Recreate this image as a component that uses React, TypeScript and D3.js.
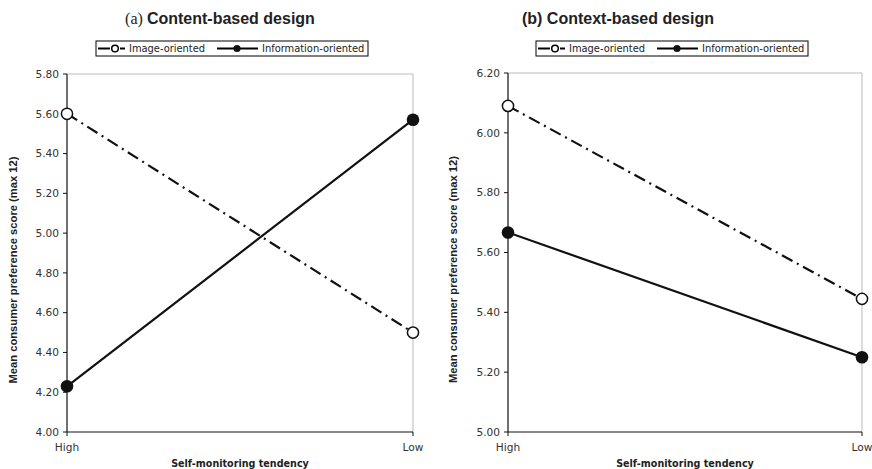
import React from "react";
import * as d3 from "d3";

const categories = ["High", "Low"];
const seriesNames = ["Image-oriented", "Information-oriented"];
const contentImage = [5.6, 4.5];
const contentInfo = [4.23, 5.57];
const contextImage = [6.09, 5.445];
const contextInfo = [5.667, 5.25];
const contentTicks = [4.0, 4.2, 4.4, 4.6, 4.8, 5.0, 5.2, 5.4, 5.6, 5.8];
const contextTicks = [5.0, 5.2, 5.4, 5.6, 5.8, 6.0, 6.2];

type PanelProps = {
  x0: number; x1: number; yTop: number; yBot: number;
  domain: [number, number]; ticks: number[];
  image: number[]; info: number[];
  legendX: number; yLabelX: number;
};

const SANS = "'DejaVu Sans', Verdana, sans-serif";
const ARIAL = "'Liberation Sans', Arial, sans-serif";

function Panel(p: PanelProps) {
  const x = d3.scalePoint<string>().domain(categories).range([p.x0, p.x1]);
  const y = d3.scaleLinear().domain(p.domain).range([p.yBot, p.yTop]);
  const line = d3.line<number>().x((_, i) => x(categories[i]) as number).y((v) => y(v));
  const lx = p.legendX;
  const ly = 48.5;
  return (
    <g>
      {/* legend */}
      <rect x={lx} y={41} width={272} height={15} fill="white" stroke="#000" strokeWidth={1} />
      <line x1={lx + 2} x2={lx + 14} y1={ly} y2={ly} stroke="#000" strokeWidth={2} />
      <line x1={lx + 24} x2={lx + 29} y1={ly} y2={ly} stroke="#000" strokeWidth={2} />
      <circle cx={lx + 19} cy={ly} r={3.3} fill="white" stroke="#000" strokeWidth={1.5} />
      <text x={lx + 33} y={ly + 3.5} fontFamily={SANS} fontSize={9.9} fill="#222">{seriesNames[0]}</text>
      <line x1={lx + 121} x2={lx + 162} y1={ly} y2={ly} stroke="#000" strokeWidth={2} />
      <circle cx={lx + 141} cy={ly} r={3.6} fill="#111" />
      <text x={lx + 166} y={ly + 3.5} fontFamily={SANS} fontSize={9.9} fill="#222">{seriesNames[1]}</text>

      {/* frame */}
      <line x1={p.x0} x2={p.x1} y1={p.yTop} y2={p.yTop} stroke="#bbb" strokeWidth={1} />
      <line x1={p.x1} x2={p.x1} y1={p.yTop} y2={p.yBot} stroke="#bbb" strokeWidth={1} />
      <line x1={p.x0} x2={p.x0} y1={p.yTop} y2={p.yBot} stroke="#111" strokeWidth={1.2} />
      <line x1={p.x0} x2={p.x1} y1={p.yBot} y2={p.yBot} stroke="#111" strokeWidth={1.2} />
      {p.ticks.map((t) => (
        <g key={t}>
          <line x1={p.x0 - 4} x2={p.x0} y1={y(t)} y2={y(t)} stroke="#111" strokeWidth={1} />
          <text x={p.x0 - 8} y={y(t) + 3.8} textAnchor="end" fontFamily={SANS} fontSize={10.6} fill="#333">
            {t.toFixed(2)}
          </text>
        </g>
      ))}
      {categories.map((c) => (
        <g key={c}>
          <line x1={x(c)} x2={x(c)} y1={p.yBot} y2={p.yBot + 4} stroke="#111" strokeWidth={1} />
          <text x={x(c)} y={p.yBot + 19} textAnchor="middle" fontFamily={SANS} fontSize={10.6} fill="#333">{c}</text>
        </g>
      ))}
      <text x={(p.x0 + p.x1) / 2} y={p.yBot + 34.5} textAnchor="middle" fontFamily={SANS} fontWeight="bold" fontSize={9.6} fill="#222">
        Self-monitoring tendency
      </text>
      <text transform={`translate(${p.yLabelX},${(p.yTop + p.yBot) / 2 + 17}) rotate(-90)`} textAnchor="middle" fontFamily={ARIAL} fontWeight="bold" fontSize={11.2} fill="#222">
        Mean consumer preference score (max 12)
      </text>

      {/* series */}
      <path d={line(p.info) || ""} fill="none" stroke="#111" strokeWidth={2.2} />
      <path d={line(p.image) || ""} fill="none" stroke="#111" strokeWidth={2.2} strokeDasharray="12,5,2,5" />
      {p.info.map((v, i) => (
        <circle key={"f" + i} cx={x(categories[i])} cy={y(v)} r={6.3} fill="#111" />
      ))}
      {p.image.map((v, i) => (
        <circle key={"o" + i} cx={x(categories[i])} cy={y(v)} r={5.6} fill="white" stroke="#111" strokeWidth={1.5} />
      ))}
    </g>
  );
}

export default function App() {
  return (
    <svg width={872} height={469} style={{ position: "absolute", left: 0, top: 0, display: "block", background: "white" }}>
      <text x={220} y={24} textAnchor="middle" fontSize={16} fill="#222">
        <tspan fontFamily="'Liberation Serif', 'Times New Roman', serif">(a) </tspan>
        <tspan fontFamily={ARIAL} fontWeight="bold">Content-based design</tspan>
      </text>
      <text x={618} y={24} textAnchor="middle" fontSize={16} fill="#222" fontFamily={ARIAL} fontWeight="bold">
        (b) Context-based design
      </text>
      <Panel x0={67} x1={413} yTop={74} yBot={432} domain={[4, 5.8]} ticks={contentTicks}
        image={contentImage} info={contentInfo} legendX={96} yLabelX={17} />
      <Panel x0={508} x1={862} yTop={73} yBot={432} domain={[5, 6.2]} ticks={contextTicks}
        image={contextImage} info={contextInfo} legendX={536} yLabelX={457} />
    </svg>
  );
}
